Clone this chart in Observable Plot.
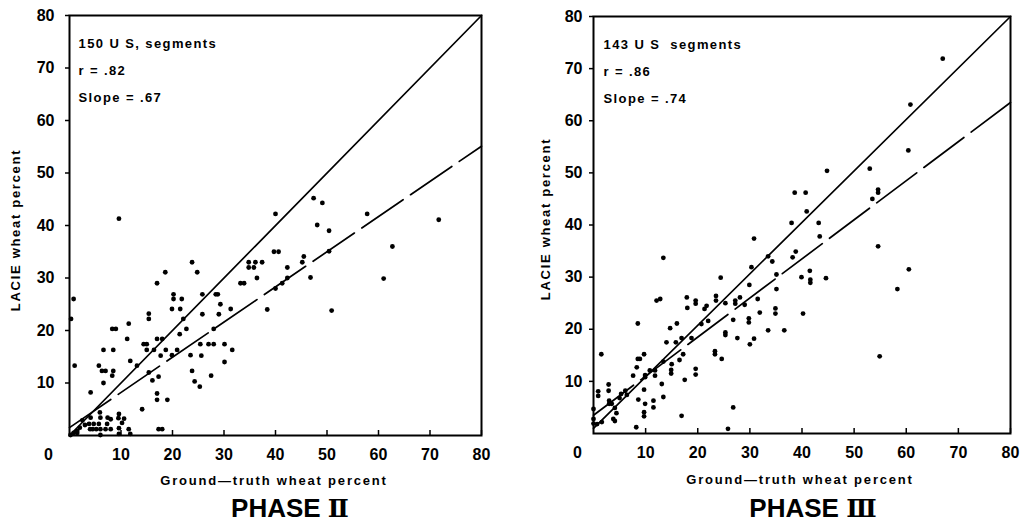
<!DOCTYPE html>
<html><head><meta charset="utf-8">
<script src="https://cdn.jsdelivr.net/npm/d3@7"></script>
<script src="https://cdn.jsdelivr.net/npm/@observablehq/plot@0.6"></script>
<style>
body{margin:0;background:#fff;}
#wrap{position:relative;width:1020px;height:529px;overflow:hidden;background:#fff;font-family:"Liberation Sans","DejaVu Sans",sans-serif;color:#000;}
.panel{position:absolute;top:0;}
.lab{position:absolute;font-weight:bold;white-space:nowrap;transform:translate(-50%,-50%);}
.xl{font-size:13px;letter-spacing:1.8px;}
.yl{font-size:13px;letter-spacing:1.7px;transform:translate(-50%,-50%) rotate(-90deg);}
.title{font-size:26px;letter-spacing:0px;}
.roman{font-family:"DejaVu Serif",serif;font-weight:bold;font-size:25px;}
g[aria-label="text"] text{letter-spacing:1.4px;}
</style>
</head><body>
<div id="wrap"></div>
<script>
// ---- data ----
const xTicks = [10, 20, 30, 40, 50, 60, 70, 80];
const yTicks = [10, 20, 30, 40, 50, 60, 70, 80];
const originTick = [0];

const phase2Notes = ["150 U S, segments", "r = .82", "Slope = .67"];
const phase3Notes = ["143 U S  segments", "r = .86", "Slope = .74"];
const titles = [["PHASE ", "\u2161"], ["PHASE ", "\u2162"]];
const xLabel = "Ground\u2014truth wheat percent";
const yLabel = "LACIE wheat percent";

const phase2Points = [
[9.6,41.3],[0.8,26.0],[1.0,13.3],[0.3,22.2],[4.1,8.2],[5.7,13.3],[6.6,16.3],[6.3,12.3],[7.0,12.3],[6.6,10.0],
[8.3,20.3],[9.0,20.3],[8.5,16.3],[8.5,12.3],[8.3,11.4],[11.2,18.4],[11.5,21.3],[11.8,14.2],[13.1,13.3],[14.1,5.0],
[14.4,17.4],[15.0,17.4],[15.4,23.2],[15.4,22.2],[15.0,16.3],[15.4,12.0],[16.4,16.3],[16.1,10.5],[17.0,29.0],[17.0,18.4],
[18.0,18.4],[17.3,11.2],[17.0,8.0],[17.0,6.8],[19.0,6.8],[17.7,15.2],[18.7,16.3],[18.6,31.1],[17.3,1.2],[18.0,1.2],
[19.9,24.1],[19.9,15.3],[20.2,26.9],[20.2,26.0],[20.9,16.3],[21.4,19.3],[21.8,26.0],[21.5,24.1],[22.1,22.2],[22.7,20.3],
[23.8,33.0],[24.8,31.1],[23.5,15.3],[23.8,12.3],[24.3,10.3],[25.3,9.3],[25.4,17.4],[25.6,15.2],[25.8,26.9],[25.8,23.1],
[27.0,17.4],[28.0,17.4],[27.5,11.4],[28.0,20.3],[28.4,26.9],[28.8,26.9],[29.3,25.0],[29.0,23.1],[30.1,17.4],[30.1,14.0],
[31.3,24.1],[31.6,16.3],[33.2,29.0],[33.9,29.0],[34.8,32.0],[35.8,32.0],[34.8,33.0],[36.1,33.0],[36.4,30.0],[37.4,33.0],
[38.4,24.0],[40.0,42.2],[39.7,35.0],[40.6,35.0],[40.0,28.0],[41.3,29.0],[42.3,32.0],[42.3,30.0],[45.2,33.0],[45.5,34.1],
[46.8,30.1],[47.4,45.2],[49.1,44.3],[48.1,40.1],[50.4,39.0],[50.4,35.1],[50.9,23.8],[57.8,42.2],[61.0,29.9],[62.7,36.0],
[71.7,41.1],
[4.1,3.4],[6.0,3.4],[7.4,3.4],[5.9,4.4],[9.5,3.3],[10.2,2.4],[8.0,1.2],[6.0,1.2],[7.0,1.2],[4.5,1.2],
[5.2,1.2],[3.0,2.0],[2.0,1.5],[0.8,0.5],[1.5,0.5],[0.2,0.1],[9.6,0.3],[11.8,0.3],[6.0,0.1],[2.5,2.9],
[3.8,2.2],[4.7,2.2],[5.7,2.2],[8.0,3.1],[9.6,4.1],[10.6,3.2],[9.6,1.4],[11.5,1.2],[1.5,0.9],[7.3,2.2],[4.0,1.2]
];
const phase3Points = [
[67.0,71.9],[60.8,63.1],[60.4,54.3],[53.0,50.8],[44.8,50.4],[38.6,46.2],[40.7,46.2],[40.9,42.6],[38.0,40.4],[43.2,40.4],
[43.4,37.8],[38.8,34.9],[38.2,33.8],[39.9,30.0],[41.5,31.2],[41.6,29.5],[41.6,28.9],[44.6,29.8],[40.2,23.0],[53.5,45.0],
[54.6,46.8],[54.6,46.2],[54.6,35.9],[54.9,14.8],[60.5,31.5],[58.3,27.7],[30.8,37.4],[30.3,31.9],[33.5,34.0],[34.3,33.0],
[35.1,30.5],[35.1,27.7],[34.9,24.0],[34.9,23.0],[33.5,19.8],[36.6,19.8],[31.9,23.2],[31.5,25.8],[30.8,18.2],[30.0,17.1],
[29.9,28.5],[29.8,22.1],[29.8,21.3],[29.0,24.7],[28.1,26.1],[27.2,25.5],[27.2,24.9],[26.8,21.8],[27.6,18.3],[26.8,5.0],
[25.8,0.9],[24.4,29.9],[23.5,26.4],[23.5,25.5],[25.3,25.0],[25.3,19.4],[25.3,18.9],[24.6,14.3],[23.3,15.8],[23.3,15.2],
[22.0,21.6],[21.7,24.5],[21.3,23.9],[20.7,21.0],[19.6,25.5],[19.6,24.9],[17.9,26.1],[18.0,24.1],[18.8,18.3],[19.6,12.4],
[19.6,11.3],[17.5,10.3],[16.9,18.3],[17.2,15.2],[16.0,21.1],[15.8,17.5],[16.5,14.1],[16.9,3.4],[14.7,20.2],[14.0,17.5],
[15.0,13.3],[14.9,11.5],[14.9,12.2],[13.4,33.7],[12.1,25.5],[12.8,25.8],[13.4,7.0],[13.1,9.5],[13.4,13.8],[11.8,12.1],
[11.8,11.1],[10.8,12.1],[11.5,5.0],[11.5,6.3],[9.7,15.2],[9.9,10.8],[9.9,11.2],[9.7,8.4],[9.9,5.7],[9.7,4.1],
[9.7,3.3],[8.5,21.1],[8.5,14.3],[8.9,14.3],[8.3,12.7],[7.6,11.1],[8.6,6.5],[8.2,1.2],[6.1,8.2],[6.4,7.4],
[5.3,7.6],[5.0,6.8],[2.9,9.4],[2.9,8.2],[3.0,6.3],[3.5,5.7],[3.0,5.7],[4.1,4.9],[4.4,3.9],[3.8,2.8],
[4.1,2.4],[1.5,15.2],[0.9,8.1],[0.9,7.2],[1.6,2.2],[0.0,4.7],[0.0,2.8],[0.0,1.9],[0.7,1.8]
];
// reference (1:1) line and regression line end points
const phase2Identity = [[0,0],[80,80]];
const phase2Fit = [[0,1.5],[80,55.1]];
const phase3Identity = [[0,1],[80,80]];
const phase3Fit = [[0,3.5],[80,63.5]];

const FONT = '"Liberation Sans","DejaVu Sans",sans-serif';

function panel(cfg){
  return Plot.plot({
    width: 510, height: 470,
    marginLeft: cfg.ml, marginRight: cfg.mr, marginTop: cfg.mt, marginBottom: cfg.mb,
    x: {domain: [0, 80]},
    y: {domain: [0, 80]},
    style: {fontFamily: FONT, fontSize: "16px", fontWeight: "bold", color: "#000", background: "transparent", overflow: "visible"},
    marks: [
      Plot.axisY(yTicks, {tickSize: 4, tickPadding: cfg.yPad, label: null, fontSize: 16, fontWeight: "bold", strokeWidth: 1.5}),
      Plot.axisX(xTicks, {tickSize: 5, dy: -5, tickFormat: () => "", label: null, strokeWidth: 1.5}),
      Plot.axisX(xTicks, {tickSize: 0, tickPadding: 13, label: null, fontSize: 16, fontWeight: "bold"}),
      Plot.axisX(originTick, {tickSize: 0, tickPadding: 13, dx: cfg.zeroDx, label: null, fontSize: 16, fontWeight: "bold"}),
      Plot.line(cfg.identity, {x: d => d[0], y: d => d[1], stroke: "#000", strokeWidth: 1.7}),
      Plot.line(cfg.fit, {x: d => d[0], y: d => d[1], stroke: "#000", strokeWidth: 1.7, strokeDasharray: "50,9"}),
      Plot.dot(cfg.points, {x: d => d[0], y: d => d[1], r: 2.4, fill: "#000", stroke: "none"}),
      Plot.text([cfg.notes.join("\n")], {frameAnchor: "top-left", dx: cfg.noteDx, dy: 14, lineAnchor: "top", lineHeight: 2.05, fontSize: 13, fontWeight: "bold", fill: "#000"}),
      Plot.frame({stroke: "#000", strokeWidth: 2})
    ]
  });
}

const wrap = document.getElementById("wrap");
function place(el, left){ const d = document.createElement("div"); d.className = "panel"; d.style.left = left + "px"; d.appendChild(el); wrap.appendChild(d); }
function label(text, cls, x, y){ const d = document.createElement("div"); d.className = "lab " + cls; d.textContent = text; d.style.left = x + "px"; d.style.top = y + "px"; wrap.appendChild(d); return d; }
function title(parts, x, y){
  const d = label(parts[0], "title", x, y);
  const s = document.createElement("span"); s.className = "roman"; s.textContent = parts[1]; d.appendChild(s);
}

place(panel({ml: 69, mr: 29, mt: 15, mb: 35, yPad: 11, zeroDx: -21, identity: phase2Identity, fit: phase2Fit, points: phase2Points, notes: phase2Notes, noteDx: 9}), 0);
place(panel({ml: 83, mr: 10, mt: 16, mb: 37, yPad: 7, zeroDx: -16, identity: phase3Identity, fit: phase3Fit, points: phase3Points, notes: phase3Notes, noteDx: 10}), 510);

label(xLabel, "xl", 274, 480);
label(xLabel, "xl", 800, 479);
label(yLabel, "yl", 15, 230);
label(yLabel, "yl", 545, 219);
title(titles[0], 290, 508);
title(titles[1], 813, 508);
</script>
</body></html>
